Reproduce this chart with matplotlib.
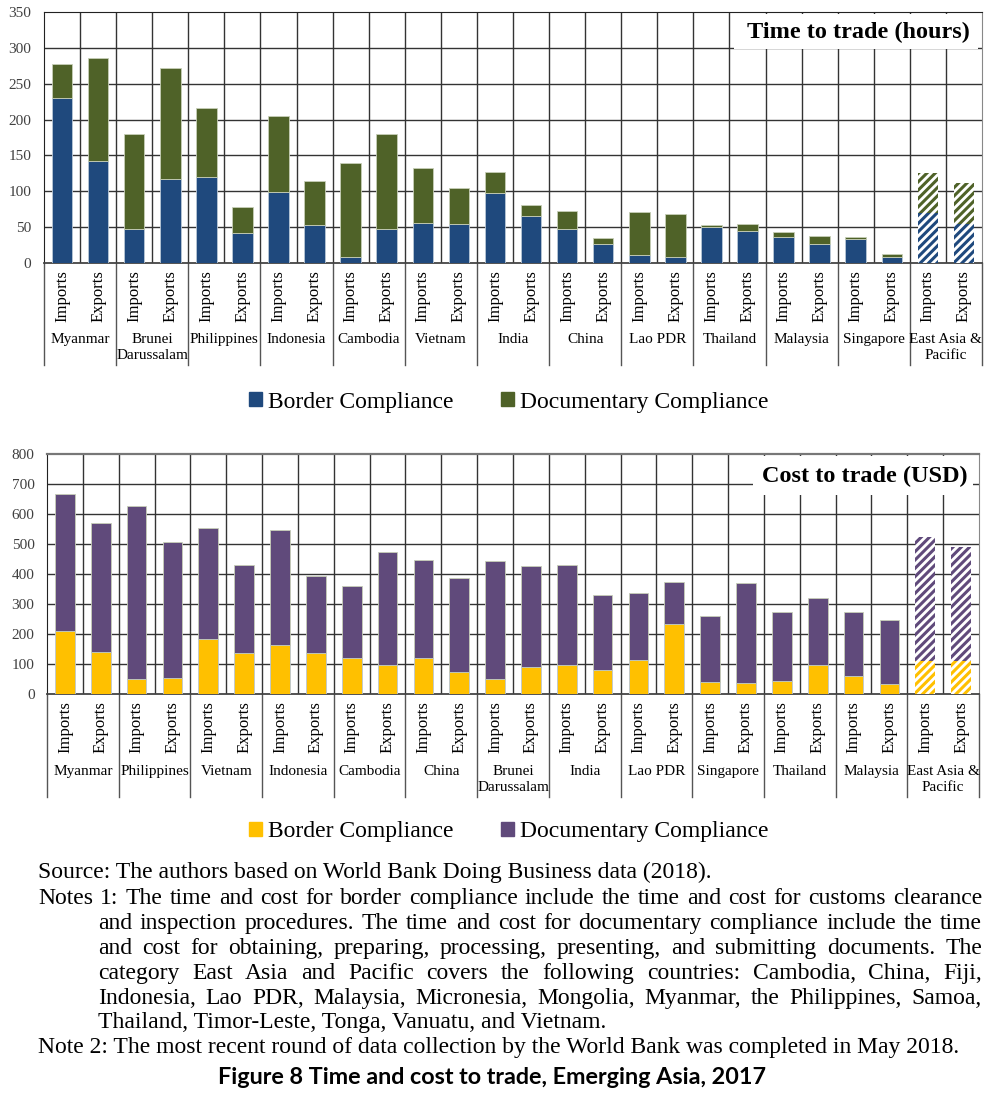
import numpy as np
import matplotlib
matplotlib.use("Agg")
import matplotlib.pyplot as plt
from matplotlib.patches import Patch, Rectangle

plt.rcParams['font.family'] = ['Liberation Serif', 'DejaVu Serif']
plt.rcParams['hatch.linewidth'] = 2.2

# ---- data ----
flows = ["Imports", "Exports"]

time_countries = ["Myanmar", "Brunei\nDarussalam", "Philippines", "Indonesia", "Cambodia",
                  "Vietnam", "India", "China", "Lao PDR", "Thailand", "Malaysia",
                  "Singapore", "East Asia &\nPacific"]
time_border = [230, 142, 48, 117, 120, 42, 99, 53, 8, 48, 56, 55, 97, 65,
               48, 26, 11, 9, 50, 44, 36, 27, 34, 9, 70, 55]
time_doc = [48, 144, 132, 155, 96, 36, 106, 61, 132, 132, 76, 50, 30, 16,
            24, 9, 60, 60, 3, 11, 7, 11, 2, 3, 55, 57]

cost_countries = ["Myanmar", "Philippines", "Vietnam", "Indonesia", "Cambodia", "China",
                  "Brunei\nDarussalam", "India", "Lao PDR", "Singapore", "Thailand",
                  "Malaysia", "East Asia &\nPacific"]
cost_border = [209, 139, 50, 52, 182, 138, 162, 138, 119, 98, 121, 72, 49, 89,
               98, 79, 115, 232, 39, 36, 43, 96, 59, 34, 111, 111]
cost_doc = [457, 432, 578, 455, 372, 291, 384, 255, 240, 376, 326, 315, 395, 339,
            331, 250, 223, 142, 220, 334, 232, 223, 214, 213, 414, 378]

W, H = 1007, 1120
fig = plt.figure(figsize=(W / 100, H / 100), dpi=100)


def px_axes(left, top, right, bottom):
    return fig.add_axes([left / W, 1 - bottom / H, (right - left) / W, (bottom - top) / H])


def draw_panel(ax, countries, border, doc, c_border, c_doc, ymax, ystep, title,
               box, title_xy, sep_depth, name_y, bar_w):
    n = len(border)
    x = np.arange(n)
    hatch_idx = [n - 2, n - 1]
    solid = [i for i in range(n) if i not in hatch_idx]
    b = np.array(border)
    d = np.array(doc)
    ax.bar(x[solid], b[solid], bar_w, color=c_border, edgecolor='#b9c7d6', linewidth=0.6, zorder=3)
    ax.bar(x[solid], d[solid], bar_w, bottom=b[solid], color=c_doc, edgecolor='#c7cfb8',
           linewidth=0.6, zorder=3)
    ax.bar(x[hatch_idx], b[hatch_idx], bar_w, facecolor='white', edgecolor=c_border,
           hatch='////', linewidth=0, zorder=3)
    ax.bar(x[hatch_idx], d[hatch_idx], bar_w, bottom=b[hatch_idx], facecolor='white',
           edgecolor=c_doc, hatch='////', linewidth=0, zorder=3)

    ax.set_xlim(-0.5, n - 0.5)
    ax.set_ylim(0, ymax)
    ax.set_yticks(np.arange(0, ymax + 1, ystep))
    ax.tick_params(axis='y', length=0, labelsize=11, labelcolor='#404040', pad=9)
    ax.set_xticks(x)
    ax.set_xticklabels(flows * (n // 2), rotation=90, fontsize=12)
    ax.tick_params(axis='x', length=0, pad=5)
    for yv in np.arange(ystep, ymax, ystep):
        ax.axhline(yv, color='#333333', lw=1.0, zorder=1)
    for xv in np.arange(0.5, n - 0.5, 1):
        ax.axvline(xv, color='#333333', lw=1.0, zorder=1)
    for s in ['left', 'top']:
        ax.spines[s].set_color('#222222')
    ax.spines['right'].set_color('#888888')
    ax.spines['bottom'].set_color('#444444')
    ax.spines['bottom'].set_linewidth(1.3)

    # title box
    ax.add_patch(Rectangle((box[0], box[1]), box[2] - box[0], box[3] - box[1],
                           transform=ax.transAxes, facecolor='white', edgecolor='none', zorder=2))
    ax.text(title_xy[0], title_xy[1], title, transform=ax.transAxes, ha='center', va='center',
            fontsize=17.5, fontweight='bold', zorder=4)

    # category separators and names
    trans = ax.get_xaxis_transform()
    for g in range(len(countries) + 1):
        ax.plot([2 * g - 0.5, 2 * g - 0.5], [0, -sep_depth], transform=trans, color='#555555',
                lw=1.0, clip_on=False)
    for g, name in enumerate(countries):
        ax.text(2 * g + 0.5, name_y, name, transform=trans, ha='center', va='top',
                fontsize=11, linespacing=1.25)


ax1 = px_axes(44, 12, 982, 263)
draw_panel(ax1, time_countries, time_border, time_doc, '#1f497d', '#4f6228', 350, 50,
           'Time to trade (hours)', (0.736, 0.852, 0.996, 0.994), (0.868, 0.918),
           0.406, -0.28, 0.57)

ax2 = px_axes(47, 454, 979, 694)
draw_panel(ax2, cost_countries, cost_border, cost_doc, '#ffc000', '#604a7b', 800, 100,
           'Cost to trade (USD)', (0.757, 0.829, 0.994, 0.990), (0.877, 0.905),
           0.43, -0.297, 0.55)
ax2.spines['top'].set_color('#777777')
ax2.spines['top'].set_linewidth(1.6)

for yc, cb, cd in [(402, '#1f497d', '#4f6228'), (832, '#ffc000', '#604a7b')]:
    fig.legend([Patch(color=cb), Patch(color=cd)], ['Border Compliance', 'Documentary Compliance'],
               loc='center', bbox_to_anchor=(509 / W, 1 - yc / H), ncol=2, frameon=False,
               fontsize=17, handlelength=0.55, handleheight=0.55, handletextpad=0.25,
               columnspacing=2.0)

# ---- notes (justified by hand) ----
renderer = fig.canvas.get_renderer()
fs = 17


def put_line(text, x0, y, x1=None):
    yb = 1 - (y + 6) / H
    words = text.split(' ')
    if x1 is None:
        fig.text(x0 / W, yb, text, fontsize=fs, va='baseline', ha='left')
        return
    objs = [fig.text(0, yb, w, fontsize=fs, va='baseline', ha='left') for w in words]
    widths = [o.get_window_extent(renderer).width for o in objs]
    gap = (x1 - x0 - sum(widths)) / (len(words) - 1)
    xp = x0
    for o, wd in zip(objs, widths):
        o.set_x(xp / W)
        xp += wd + gap


put_line("Source: The authors based on World Bank Doing Business data (2018).", 38, 872)
put_line("Notes 1: The time and cost for border compliance include the time and cost for customs clearance", 38, 898, 982)
put_line("and inspection procedures. The time and cost for documentary compliance include the time", 98, 923, 982)
put_line("and cost for obtaining, preparing, processing, presenting, and submitting documents. The", 98, 948, 982)
put_line("category East Asia and Pacific covers the following countries: Cambodia, China, Fiji,", 98, 973, 982)
put_line("Indonesia, Lao PDR, Malaysia, Micronesia, Mongolia, Myanmar, the Philippines, Samoa,", 98, 998, 982)
put_line("Thailand, Timor-Leste, Tonga, Vanuatu, and Vietnam.", 98, 1022)
put_line("Note 2: The most recent round of data collection by the World Bank was completed in May 2018.", 38, 1047)
fig.text(492 / W, 1 - 1077 / H, "Figure 8 Time and cost to trade, Emerging Asia, 2017",
         fontsize=16.8, fontweight='bold', family=['Lato', 'DejaVu Sans'], ha='center', va='center')

fig.savefig("out.png", dpi=100)
